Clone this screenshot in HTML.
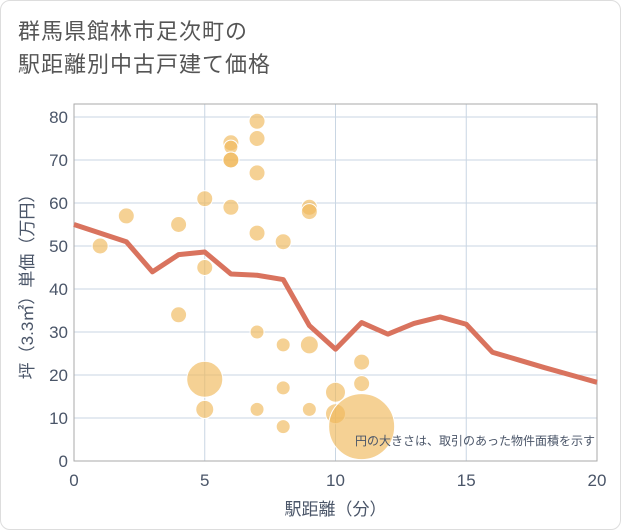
<!DOCTYPE html>
<html><head><meta charset="utf-8"><style>
body{margin:0;background:#fff;font-family:"Liberation Sans","Noto Sans CJK JP",sans-serif;}
#wrap{position:relative;width:619px;height:528px;border:1px solid #ddd;border-radius:10px;overflow:hidden;background:#fff;}
#title{position:absolute;left:17px;top:14px;font-size:22px;line-height:33px;color:#555;letter-spacing:1px;}
svg{position:absolute;left:0;top:0;}
</style></head><body>
<div id="wrap">
<div id="title">群馬県館林市足次町の<br>駅距離別中古戸建て価格</div>
<svg id="chart" width="621" height="530"></svg>
</div>
<script>
const xTicks=[0,5,10,15,20];
const yTicks=[0,10,20,30,40,50,60,70,80];
const ptX=[1,2,4,4,5,5,5,5,6,6,6,6,6,7,7,7,7,7,7,8,8,8,8,9,9,9,9,10,10,11,11,11];
const ptY=[50,57,55,34,61,45,19,12,74,73,70,70,59,79,75,67,53,30,12,51,27,17,8,59,58,27,12,16,11,23,18,8];
const ptR=[8,8,8,8,8,8,18,9,8,7,8,8,8,8,8,8,8,7,7,8,7,7,7,8,8,9,7,10,10,8,8,33];
const lineX=[0,1,2,3,4,5,6,7,8,9,10,11,12,13,14,15,16,17,18,19,20];
const lineY=[55,53,51,44,48,48.6,43.5,43.2,42.2,31.5,26,32.2,29.5,32,33.5,31.8,25.3,23.5,21.7,20,18.3];
const NS="http://www.w3.org/2000/svg";
const svg=document.getElementById('chart');
const L=73,R=596,T=103,B=460;
const sx=v=>L+(R-L)*v/20;
const sy=v=>B-(B-116)*v/80;
function mk(t,a){const e=document.createElementNS(NS,t);for(const k in a)e.setAttribute(k,a[k]);svg.appendChild(e);return e;}
yTicks.forEach(v=>{const g=mk('line',{x1:L,x2:R,y1:sy(v),y2:sy(v),stroke:'#c9d6e3','stroke-width':1});

const t=mk('text',{x:L-6,y:sy(v)+6,'text-anchor':'end','font-size':17,fill:'#4a5568'});t.textContent=v;
});
xTicks.forEach(v=>{const g=mk('line',{x1:sx(v),x2:sx(v),y1:T,y2:B,stroke:'#c9d6e3','stroke-width':1});

const t=mk('text',{x:sx(v),y:B+25,'text-anchor':'middle','font-size':17,fill:'#4a5568'});t.textContent=v;
});
const fr=mk('rect',{x:L,y:T,width:R-L,height:B-T,fill:'none',stroke:'#aaa','stroke-width':1});

ptX.forEach((x,i)=>{const c=mk('circle',{cx:sx(x),cy:sy(ptY[i]),r:ptR[i],fill:'rgba(240,185,90,0.65)',stroke:'#fff','stroke-width':1});
});
const p=mk('polyline',{points:lineX.map((x,i)=>sx(x)+','+sy(lineY[i])).join(' '),fill:'none',stroke:'#d9735e','stroke-width':5,'stroke-linejoin':'round'});

const n=mk('text',{x:594,y:444,'text-anchor':'end','font-size':12,fill:'#4a5568'});n.textContent='円の大きさは、取引のあった物件面積を示す';

const xt=mk('text',{x:(L+R)/2,y:514,'text-anchor':'middle','font-size':17,fill:'#4a5568'});xt.textContent='駅距離（分）';

const yt=mk('text',{x:0,y:0,'text-anchor':'middle','font-size':17,fill:'#4a5568',transform:'translate(32,'+((T+B)/2)+') rotate(-90)'});yt.textContent='坪（3.3㎡）単価（万円）';

</script>
</body></html>
